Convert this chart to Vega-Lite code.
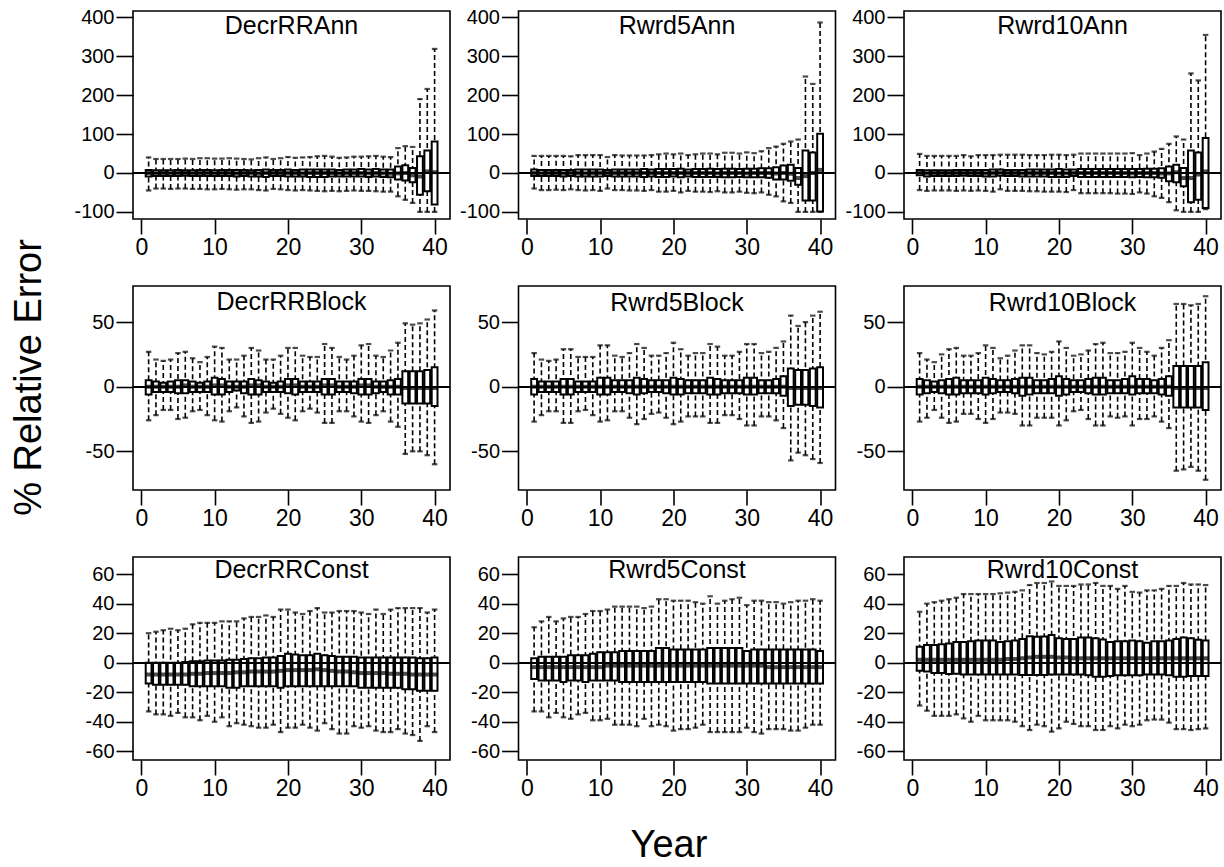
{
"$schema": "https://vega.github.io/schema/vega-lite/v6.json",
"padding": {"left": 9, "top": 6, "right": 5, "bottom": 3},
"background": "white",
"config": {
 "font": "Liberation Sans",
 "view": {"stroke": "black", "strokeWidth": 1.6},
 "axis": {"grid": false, "domain": false, "tickColor": "black", "tickWidth": 1.6, "labelColor": "black", "labelFont": "Liberation Sans", "labelExpr": "'' + datum.value", "labelOverlap": false, "tickCount": 20, "titleFont": "Liberation Sans", "titleFontWeight": "normal", "titleColor": "black"},
 "axisX": {"tickSize": 15, "labelFontSize": 23, "labelPadding": 2},
 "axisY": {"tickSize": 17, "labelFontSize": 20, "labelPadding": 2},
 "scale": {"continuousPadding": 0},
 "title": {"font": "Liberation Sans", "fontSize": 25, "fontWeight": "normal", "color": "black", "baseline": "middle"}
},
"datasets": {
"DecrRRAnn": [
{"yr":1,"lo":-45,"q1":-9,"md":0,"q3":8,"hi":40},{"yr":2,"lo":-40,"q1":-8,"md":-1,"q3":7,"hi":36},{"yr":3,"lo":-40,"q1":-8,"md":0,"q3":7,"hi":36},{"yr":4,"lo":-41,"q1":-8,"md":-1,"q3":7,"hi":36},{"yr":5,"lo":-40,"q1":-8,"md":0,"q3":8,"hi":36},{"yr":6,"lo":-40,"q1":-7,"md":0,"q3":7,"hi":37},{"yr":7,"lo":-41,"q1":-8,"md":-1,"q3":7,"hi":36},{"yr":8,"lo":-41,"q1":-8,"md":0,"q3":8,"hi":38},{"yr":9,"lo":-42,"q1":-8,"md":0,"q3":8,"hi":38},{"yr":10,"lo":-42,"q1":-8,"md":-1,"q3":7,"hi":37},
{"yr":11,"lo":-41,"q1":-8,"md":0,"q3":8,"hi":37},{"yr":12,"lo":-42,"q1":-8,"md":0,"q3":8,"hi":38},{"yr":13,"lo":-43,"q1":-9,"md":-1,"q3":8,"hi":37},{"yr":14,"lo":-42,"q1":-8,"md":0,"q3":8,"hi":36},{"yr":15,"lo":-42,"q1":-9,"md":0,"q3":7,"hi":35},{"yr":16,"lo":-44,"q1":-9,"md":-1,"q3":8,"hi":38},{"yr":17,"lo":-45,"q1":-10,"md":0,"q3":9,"hi":40},{"yr":18,"lo":-41,"q1":-8,"md":0,"q3":8,"hi":36},{"yr":19,"lo":-42,"q1":-8,"md":0,"q3":8,"hi":38},{"yr":20,"lo":-44,"q1":-9,"md":0,"q3":9,"hi":41},
{"yr":21,"lo":-45,"q1":-9,"md":0,"q3":8,"hi":39},{"yr":22,"lo":-44,"q1":-9,"md":-1,"q3":9,"hi":40},{"yr":23,"lo":-45,"q1":-10,"md":0,"q3":9,"hi":41},{"yr":24,"lo":-46,"q1":-10,"md":0,"q3":9,"hi":43},{"yr":25,"lo":-47,"q1":-10,"md":0,"q3":9,"hi":44},{"yr":26,"lo":-46,"q1":-9,"md":0,"q3":9,"hi":42},{"yr":27,"lo":-47,"q1":-9,"md":-1,"q3":8,"hi":39},{"yr":28,"lo":-46,"q1":-9,"md":0,"q3":9,"hi":40},{"yr":29,"lo":-45,"q1":-9,"md":0,"q3":9,"hi":42},{"yr":30,"lo":-46,"q1":-9,"md":0,"q3":10,"hi":42},
{"yr":31,"lo":-46,"q1":-10,"md":-1,"q3":9,"hi":43},{"yr":32,"lo":-47,"q1":-9,"md":0,"q3":10,"hi":44},{"yr":33,"lo":-48,"q1":-10,"md":-1,"q3":9,"hi":42},{"yr":34,"lo":-48,"q1":-11,"md":-2,"q3":9,"hi":41},{"yr":35,"lo":-60,"q1":-17,"md":-1,"q3":17,"hi":64},{"yr":36,"lo":-69,"q1":-19,"md":0,"q3":20,"hi":69},{"yr":37,"lo":-77,"q1":-24,"md":-6,"q3":13,"hi":67},{"yr":38,"lo":-100,"q1":-56,"md":-9,"q3":43,"hi":190},{"yr":39,"lo":-100,"q1":-47,"md":4,"q3":58,"hi":216},{"yr":40,"lo":-100,"q1":-81,"md":2,"q3":81,"hi":319}
],
"Rwrd5Ann": [
{"yr":1,"lo":-40,"q1":-8,"md":0,"q3":9,"hi":44},{"yr":2,"lo":-44,"q1":-8,"md":-1,"q3":8,"hi":44},{"yr":3,"lo":-44,"q1":-8,"md":0,"q3":8,"hi":44},{"yr":4,"lo":-43,"q1":-8,"md":0,"q3":8,"hi":44},{"yr":5,"lo":-44,"q1":-9,"md":-1,"q3":8,"hi":44},{"yr":6,"lo":-42,"q1":-8,"md":0,"q3":8,"hi":43},{"yr":7,"lo":-44,"q1":-9,"md":0,"q3":9,"hi":46},{"yr":8,"lo":-45,"q1":-9,"md":-1,"q3":9,"hi":46},{"yr":9,"lo":-44,"q1":-9,"md":0,"q3":9,"hi":46},{"yr":10,"lo":-46,"q1":-9,"md":0,"q3":9,"hi":46},
{"yr":11,"lo":-40,"q1":-8,"md":0,"q3":8,"hi":41},{"yr":12,"lo":-44,"q1":-9,"md":0,"q3":9,"hi":46},{"yr":13,"lo":-44,"q1":-9,"md":0,"q3":9,"hi":45},{"yr":14,"lo":-45,"q1":-9,"md":0,"q3":9,"hi":45},{"yr":15,"lo":-45,"q1":-9,"md":0,"q3":9,"hi":45},{"yr":16,"lo":-46,"q1":-10,"md":0,"q3":10,"hi":45},{"yr":17,"lo":-44,"q1":-9,"md":0,"q3":9,"hi":46},{"yr":18,"lo":-48,"q1":-10,"md":0,"q3":10,"hi":48},{"yr":19,"lo":-48,"q1":-10,"md":0,"q3":10,"hi":50},{"yr":20,"lo":-46,"q1":-9,"md":0,"q3":10,"hi":48},
{"yr":21,"lo":-50,"q1":-11,"md":0,"q3":11,"hi":50},{"yr":22,"lo":-46,"q1":-9,"md":0,"q3":9,"hi":46},{"yr":23,"lo":-48,"q1":-10,"md":0,"q3":10,"hi":48},{"yr":24,"lo":-48,"q1":-10,"md":0,"q3":10,"hi":50},{"yr":25,"lo":-49,"q1":-10,"md":0,"q3":11,"hi":50},{"yr":26,"lo":-47,"q1":-10,"md":-1,"q3":10,"hi":48},{"yr":27,"lo":-50,"q1":-11,"md":0,"q3":11,"hi":52},{"yr":28,"lo":-50,"q1":-11,"md":0,"q3":11,"hi":52},{"yr":29,"lo":-48,"q1":-10,"md":0,"q3":10,"hi":50},{"yr":30,"lo":-51,"q1":-11,"md":-1,"q3":11,"hi":53},
{"yr":31,"lo":-52,"q1":-11,"md":0,"q3":11,"hi":51},{"yr":32,"lo":-50,"q1":-11,"md":0,"q3":12,"hi":56},{"yr":33,"lo":-56,"q1":-12,"md":0,"q3":12,"hi":64},{"yr":34,"lo":-60,"q1":-17,"md":-1,"q3":15,"hi":68},{"yr":35,"lo":-73,"q1":-17,"md":0,"q3":19,"hi":75},{"yr":36,"lo":-77,"q1":-20,"md":-2,"q3":21,"hi":81},{"yr":37,"lo":-100,"q1":-30,"md":-13,"q3":13,"hi":86},{"yr":38,"lo":-100,"q1":-71,"md":-8,"q3":58,"hi":248},{"yr":39,"lo":-100,"q1":-71,"md":0,"q3":53,"hi":229},{"yr":40,"lo":-100,"q1":-99,"md":8,"q3":101,"hi":387}
],
"Rwrd10Ann": [
{"yr":1,"lo":-44,"q1":-6,"md":2,"q3":8,"hi":49},{"yr":2,"lo":-46,"q1":-9,"md":-1,"q3":7,"hi":44},{"yr":3,"lo":-45,"q1":-8,"md":0,"q3":7,"hi":44},{"yr":4,"lo":-45,"q1":-8,"md":0,"q3":7,"hi":44},{"yr":5,"lo":-45,"q1":-8,"md":0,"q3":7,"hi":44},{"yr":6,"lo":-46,"q1":-8,"md":0,"q3":8,"hi":44},{"yr":7,"lo":-45,"q1":-7,"md":0,"q3":8,"hi":46},{"yr":8,"lo":-46,"q1":-8,"md":0,"q3":8,"hi":43},{"yr":9,"lo":-45,"q1":-8,"md":0,"q3":8,"hi":46},{"yr":10,"lo":-46,"q1":-9,"md":-1,"q3":8,"hi":46},
{"yr":11,"lo":-48,"q1":-9,"md":0,"q3":9,"hi":46},{"yr":12,"lo":-42,"q1":-7,"md":1,"q3":9,"hi":47},{"yr":13,"lo":-46,"q1":-8,"md":0,"q3":8,"hi":47},{"yr":14,"lo":-46,"q1":-8,"md":0,"q3":8,"hi":47},{"yr":15,"lo":-46,"q1":-9,"md":-1,"q3":8,"hi":47},{"yr":16,"lo":-47,"q1":-9,"md":0,"q3":9,"hi":46},{"yr":17,"lo":-47,"q1":-9,"md":0,"q3":9,"hi":46},{"yr":18,"lo":-48,"q1":-9,"md":0,"q3":9,"hi":46},{"yr":19,"lo":-48,"q1":-10,"md":0,"q3":9,"hi":47},{"yr":20,"lo":-48,"q1":-10,"md":-1,"q3":10,"hi":47},
{"yr":21,"lo":-49,"q1":-10,"md":-1,"q3":9,"hi":46},{"yr":22,"lo":-44,"q1":-8,"md":0,"q3":9,"hi":47},{"yr":23,"lo":-52,"q1":-10,"md":0,"q3":10,"hi":50},{"yr":24,"lo":-52,"q1":-10,"md":0,"q3":10,"hi":50},{"yr":25,"lo":-52,"q1":-10,"md":0,"q3":10,"hi":50},{"yr":26,"lo":-52,"q1":-10,"md":0,"q3":10,"hi":50},{"yr":27,"lo":-52,"q1":-10,"md":0,"q3":10,"hi":50},{"yr":28,"lo":-53,"q1":-10,"md":0,"q3":10,"hi":50},{"yr":29,"lo":-53,"q1":-10,"md":0,"q3":10,"hi":50},{"yr":30,"lo":-54,"q1":-11,"md":-1,"q3":10,"hi":51},
{"yr":31,"lo":-50,"q1":-10,"md":0,"q3":10,"hi":46},{"yr":32,"lo":-53,"q1":-11,"md":0,"q3":11,"hi":50},{"yr":33,"lo":-60,"q1":-11,"md":0,"q3":11,"hi":55},{"yr":34,"lo":-64,"q1":-12,"md":-1,"q3":12,"hi":62},{"yr":35,"lo":-75,"q1":-21,"md":-1,"q3":17,"hi":75},{"yr":36,"lo":-96,"q1":-24,"md":2,"q3":21,"hi":94},{"yr":37,"lo":-100,"q1":-34,"md":-13,"q3":13,"hi":86},{"yr":38,"lo":-100,"q1":-75,"md":-13,"q3":58,"hi":256},{"yr":39,"lo":-100,"q1":-69,"md":-4,"q3":53,"hi":238},{"yr":40,"lo":-93,"q1":-90,"md":4,"q3":90,"hi":355}
],
"DecrRRBlock": [
{"yr":1,"lo":-26,"q1":-6,"md":0,"q3":5,"hi":27},{"yr":2,"lo":-22,"q1":-4,"md":0,"q3":4,"hi":21},{"yr":3,"lo":-18,"q1":-4,"md":0,"q3":3,"hi":20},{"yr":4,"lo":-18,"q1":-4,"md":0,"q3":4,"hi":21},{"yr":5,"lo":-25,"q1":-5,"md":0,"q3":5,"hi":26},{"yr":6,"lo":-24,"q1":-5,"md":1,"q3":5,"hi":27},{"yr":7,"lo":-19,"q1":-4,"md":0,"q3":4,"hi":22},{"yr":8,"lo":-18,"q1":-4,"md":0,"q3":3,"hi":19},{"yr":9,"lo":-22,"q1":-4,"md":0,"q3":4,"hi":23},{"yr":10,"lo":-26,"q1":-6,"md":1,"q3":7,"hi":31},
{"yr":11,"lo":-27,"q1":-6,"md":1,"q3":6,"hi":30},{"yr":12,"lo":-19,"q1":-4,"md":0,"q3":4,"hi":21},{"yr":13,"lo":-16,"q1":-3,"md":0,"q3":4,"hi":21},{"yr":14,"lo":-23,"q1":-5,"md":0,"q3":4,"hi":24},{"yr":15,"lo":-28,"q1":-6,"md":1,"q3":6,"hi":30},{"yr":16,"lo":-27,"q1":-6,"md":1,"q3":5,"hi":28},{"yr":17,"lo":-20,"q1":-4,"md":0,"q3":4,"hi":21},{"yr":18,"lo":-17,"q1":-4,"md":0,"q3":3,"hi":21},{"yr":19,"lo":-21,"q1":-4,"md":0,"q3":4,"hi":24},{"yr":20,"lo":-24,"q1":-5,"md":1,"q3":6,"hi":30},
{"yr":21,"lo":-26,"q1":-6,"md":1,"q3":6,"hi":30},{"yr":22,"lo":-19,"q1":-4,"md":0,"q3":4,"hi":24},{"yr":23,"lo":-17,"q1":-4,"md":0,"q3":4,"hi":23},{"yr":24,"lo":-20,"q1":-4,"md":0,"q3":4,"hi":23},{"yr":25,"lo":-28,"q1":-6,"md":1,"q3":6,"hi":33},{"yr":26,"lo":-28,"q1":-6,"md":1,"q3":6,"hi":30},{"yr":27,"lo":-19,"q1":-4,"md":0,"q3":4,"hi":23},{"yr":28,"lo":-19,"q1":-4,"md":0,"q3":4,"hi":21},{"yr":29,"lo":-23,"q1":-5,"md":0,"q3":4,"hi":24},{"yr":30,"lo":-27,"q1":-6,"md":1,"q3":6,"hi":32},
{"yr":31,"lo":-28,"q1":-6,"md":1,"q3":6,"hi":33},{"yr":32,"lo":-22,"q1":-5,"md":0,"q3":4,"hi":24},{"yr":33,"lo":-19,"q1":-4,"md":0,"q3":4,"hi":23},{"yr":34,"lo":-27,"q1":-6,"md":0,"q3":5,"hi":28},{"yr":35,"lo":-31,"q1":-6,"md":0,"q3":6,"hi":34},{"yr":36,"lo":-52,"q1":-13,"md":-1,"q3":12,"hi":49},{"yr":37,"lo":-50,"q1":-13,"md":-1,"q3":12,"hi":48},{"yr":38,"lo":-50,"q1":-13,"md":-1,"q3":12,"hi":49},{"yr":39,"lo":-53,"q1":-13,"md":-1,"q3":13,"hi":52},{"yr":40,"lo":-60,"q1":-15,"md":-1,"q3":15,"hi":59}
],
"Rwrd5Block": [
{"yr":1,"lo":-27,"q1":-6,"md":0,"q3":6,"hi":26},{"yr":2,"lo":-22,"q1":-4,"md":0,"q3":4,"hi":21},{"yr":3,"lo":-19,"q1":-4,"md":0,"q3":4,"hi":20},{"yr":4,"lo":-19,"q1":-4,"md":0,"q3":4,"hi":21},{"yr":5,"lo":-28,"q1":-6,"md":0,"q3":6,"hi":29},{"yr":6,"lo":-28,"q1":-6,"md":0,"q3":6,"hi":29},{"yr":7,"lo":-19,"q1":-4,"md":0,"q3":4,"hi":23},{"yr":8,"lo":-18,"q1":-4,"md":0,"q3":4,"hi":23},{"yr":9,"lo":-22,"q1":-4,"md":0,"q3":4,"hi":23},{"yr":10,"lo":-27,"q1":-6,"md":0,"q3":7,"hi":32},
{"yr":11,"lo":-26,"q1":-6,"md":0,"q3":7,"hi":32},{"yr":12,"lo":-19,"q1":-4,"md":0,"q3":5,"hi":24},{"yr":13,"lo":-19,"q1":-4,"md":0,"q3":5,"hi":23},{"yr":14,"lo":-24,"q1":-5,"md":0,"q3":5,"hi":26},{"yr":15,"lo":-29,"q1":-6,"md":0,"q3":7,"hi":33},{"yr":16,"lo":-25,"q1":-5,"md":0,"q3":6,"hi":30},{"yr":17,"lo":-21,"q1":-4,"md":0,"q3":5,"hi":24},{"yr":18,"lo":-20,"q1":-4,"md":0,"q3":5,"hi":24},{"yr":19,"lo":-24,"q1":-5,"md":0,"q3":5,"hi":26},{"yr":20,"lo":-29,"q1":-6,"md":0,"q3":7,"hi":34},
{"yr":21,"lo":-27,"q1":-6,"md":0,"q3":6,"hi":29},{"yr":22,"lo":-23,"q1":-5,"md":0,"q3":5,"hi":24},{"yr":23,"lo":-23,"q1":-5,"md":0,"q3":5,"hi":26},{"yr":24,"lo":-23,"q1":-5,"md":0,"q3":5,"hi":26},{"yr":25,"lo":-28,"q1":-6,"md":0,"q3":7,"hi":33},{"yr":26,"lo":-28,"q1":-6,"md":0,"q3":6,"hi":31},{"yr":27,"lo":-22,"q1":-5,"md":0,"q3":5,"hi":24},{"yr":28,"lo":-22,"q1":-5,"md":0,"q3":5,"hi":24},{"yr":29,"lo":-25,"q1":-5,"md":0,"q3":5,"hi":27},{"yr":30,"lo":-30,"q1":-6,"md":0,"q3":7,"hi":33},
{"yr":31,"lo":-30,"q1":-6,"md":0,"q3":7,"hi":33},{"yr":32,"lo":-23,"q1":-5,"md":0,"q3":5,"hi":26},{"yr":33,"lo":-23,"q1":-5,"md":0,"q3":5,"hi":27},{"yr":34,"lo":-26,"q1":-5,"md":0,"q3":6,"hi":30},{"yr":35,"lo":-32,"q1":-7,"md":0,"q3":8,"hi":35},{"yr":36,"lo":-57,"q1":-15,"md":-1,"q3":14,"hi":55},{"yr":37,"lo":-51,"q1":-14,"md":-1,"q3":13,"hi":47},{"yr":38,"lo":-53,"q1":-14,"md":-1,"q3":13,"hi":50},{"yr":39,"lo":-56,"q1":-15,"md":-1,"q3":14,"hi":55},{"yr":40,"lo":-59,"q1":-16,"md":-1,"q3":15,"hi":58}
],
"Rwrd10Block": [
{"yr":1,"lo":-27,"q1":-6,"md":0,"q3":6,"hi":26},{"yr":2,"lo":-24,"q1":-5,"md":0,"q3":5,"hi":21},{"yr":3,"lo":-18,"q1":-4,"md":0,"q3":4,"hi":19},{"yr":4,"lo":-24,"q1":-5,"md":0,"q3":5,"hi":25},{"yr":5,"lo":-28,"q1":-6,"md":0,"q3":6,"hi":29},{"yr":6,"lo":-27,"q1":-6,"md":0,"q3":7,"hi":30},{"yr":7,"lo":-21,"q1":-5,"md":0,"q3":5,"hi":24},{"yr":8,"lo":-21,"q1":-5,"md":0,"q3":5,"hi":24},{"yr":9,"lo":-25,"q1":-5,"md":0,"q3":5,"hi":26},{"yr":10,"lo":-28,"q1":-6,"md":0,"q3":7,"hi":32},
{"yr":11,"lo":-25,"q1":-5,"md":0,"q3":6,"hi":30},{"yr":12,"lo":-20,"q1":-4,"md":0,"q3":5,"hi":22},{"yr":13,"lo":-20,"q1":-4,"md":0,"q3":5,"hi":24},{"yr":14,"lo":-21,"q1":-5,"md":0,"q3":6,"hi":28},{"yr":15,"lo":-30,"q1":-7,"md":0,"q3":7,"hi":32},{"yr":16,"lo":-30,"q1":-6,"md":0,"q3":7,"hi":32},{"yr":17,"lo":-24,"q1":-5,"md":0,"q3":5,"hi":26},{"yr":18,"lo":-24,"q1":-5,"md":0,"q3":5,"hi":25},{"yr":19,"lo":-24,"q1":-5,"md":0,"q3":6,"hi":27},{"yr":20,"lo":-30,"q1":-7,"md":0,"q3":8,"hi":35},
{"yr":21,"lo":-26,"q1":-6,"md":0,"q3":6,"hi":30},{"yr":22,"lo":-19,"q1":-4,"md":0,"q3":5,"hi":24},{"yr":23,"lo":-18,"q1":-4,"md":0,"q3":5,"hi":25},{"yr":24,"lo":-25,"q1":-5,"md":0,"q3":6,"hi":28},{"yr":25,"lo":-30,"q1":-6,"md":0,"q3":7,"hi":33},{"yr":26,"lo":-30,"q1":-6,"md":0,"q3":7,"hi":34},{"yr":27,"lo":-23,"q1":-5,"md":0,"q3":5,"hi":26},{"yr":28,"lo":-24,"q1":-5,"md":0,"q3":5,"hi":26},{"yr":29,"lo":-23,"q1":-5,"md":0,"q3":6,"hi":27},{"yr":30,"lo":-30,"q1":-6,"md":0,"q3":8,"hi":34},
{"yr":31,"lo":-25,"q1":-5,"md":0,"q3":6,"hi":30},{"yr":32,"lo":-25,"q1":-5,"md":0,"q3":6,"hi":27},{"yr":33,"lo":-23,"q1":-5,"md":0,"q3":5,"hi":24},{"yr":34,"lo":-27,"q1":-6,"md":0,"q3":6,"hi":30},{"yr":35,"lo":-32,"q1":-7,"md":0,"q3":8,"hi":36},{"yr":36,"lo":-65,"q1":-16,"md":-1,"q3":16,"hi":64},{"yr":37,"lo":-64,"q1":-16,"md":-1,"q3":16,"hi":64},{"yr":38,"lo":-62,"q1":-16,"md":-1,"q3":16,"hi":63},{"yr":39,"lo":-65,"q1":-16,"md":-1,"q3":16,"hi":64},{"yr":40,"lo":-72,"q1":-18,"md":-1,"q3":19,"hi":70}
],
"DecrRRConst": [
{"yr":1,"lo":-33,"q1":-14,"md":-8,"q3":0,"hi":20},{"yr":2,"lo":-35,"q1":-15,"md":-8,"q3":0,"hi":21},{"yr":3,"lo":-35,"q1":-15,"md":-8,"q3":0,"hi":22},{"yr":4,"lo":-36,"q1":-15,"md":-8,"q3":0,"hi":23},{"yr":5,"lo":-34,"q1":-15,"md":-8,"q3":0,"hi":22},{"yr":6,"lo":-37,"q1":-15,"md":-8,"q3":0.5,"hi":23},{"yr":7,"lo":-37,"q1":-16,"md":-7.5,"q3":1,"hi":26},{"yr":8,"lo":-39,"q1":-16,"md":-7.5,"q3":1,"hi":27},{"yr":9,"lo":-36,"q1":-16,"md":-7,"q3":1.5,"hi":27},{"yr":10,"lo":-40,"q1":-16,"md":-7,"q3":1.5,"hi":27},
{"yr":11,"lo":-37,"q1":-16,"md":-7,"q3":1.5,"hi":28},{"yr":12,"lo":-43,"q1":-17,"md":-7,"q3":2,"hi":28},{"yr":13,"lo":-41,"q1":-17,"md":-6.5,"q3":2,"hi":28},{"yr":14,"lo":-42,"q1":-16,"md":-6.5,"q3":2.5,"hi":30},{"yr":15,"lo":-43,"q1":-16,"md":-6,"q3":3,"hi":31},{"yr":16,"lo":-44,"q1":-16,"md":-6,"q3":3,"hi":31},{"yr":17,"lo":-44,"q1":-16,"md":-6,"q3":3.5,"hi":32},{"yr":18,"lo":-42,"q1":-16,"md":-6,"q3":3.5,"hi":31},{"yr":19,"lo":-47,"q1":-17,"md":-5.5,"q3":4.5,"hi":36},{"yr":20,"lo":-44,"q1":-16,"md":-5,"q3":6,"hi":36},
{"yr":21,"lo":-44,"q1":-16,"md":-5,"q3":5.5,"hi":34},{"yr":22,"lo":-42,"q1":-16,"md":-5,"q3":5,"hi":33},{"yr":23,"lo":-44,"q1":-16,"md":-5,"q3":5,"hi":35},{"yr":24,"lo":-46,"q1":-16,"md":-4.5,"q3":6,"hi":37},{"yr":25,"lo":-41,"q1":-16,"md":-5,"q3":5,"hi":34},{"yr":26,"lo":-45,"q1":-16,"md":-5.5,"q3":4.5,"hi":34},{"yr":27,"lo":-48,"q1":-16,"md":-6,"q3":4,"hi":35},{"yr":28,"lo":-48,"q1":-16,"md":-6,"q3":4,"hi":35},{"yr":29,"lo":-43,"q1":-16,"md":-6.5,"q3":4,"hi":35},{"yr":30,"lo":-44,"q1":-17,"md":-7,"q3":3.5,"hi":34},
{"yr":31,"lo":-43,"q1":-17,"md":-7,"q3":3.5,"hi":33},{"yr":32,"lo":-46,"q1":-17,"md":-7,"q3":3.5,"hi":36},{"yr":33,"lo":-47,"q1":-17,"md":-7,"q3":3.5,"hi":33},{"yr":34,"lo":-47,"q1":-17,"md":-7.5,"q3":3.5,"hi":36},{"yr":35,"lo":-45,"q1":-17,"md":-7.5,"q3":3.5,"hi":37},{"yr":36,"lo":-48,"q1":-18,"md":-7.5,"q3":3.5,"hi":37},{"yr":37,"lo":-49,"q1":-18,"md":-8,"q3":3.5,"hi":37},{"yr":38,"lo":-53,"q1":-19,"md":-8,"q3":3,"hi":37},{"yr":39,"lo":-43,"q1":-19,"md":-8,"q3":3,"hi":34},{"yr":40,"lo":-47,"q1":-19,"md":-8,"q3":3.5,"hi":36}
],
"Rwrd5Const": [
{"yr":1,"lo":-33,"q1":-11,"md":-3,"q3":3,"hi":24},{"yr":2,"lo":-33,"q1":-12,"md":-3,"q3":4,"hi":28},{"yr":3,"lo":-37,"q1":-12,"md":-3,"q3":4,"hi":31},{"yr":4,"lo":-34,"q1":-12,"md":-3,"q3":4,"hi":28},{"yr":5,"lo":-37,"q1":-13,"md":-3,"q3":4,"hi":30},{"yr":6,"lo":-38,"q1":-12,"md":-3,"q3":5,"hi":31},{"yr":7,"lo":-35,"q1":-12,"md":-3,"q3":5,"hi":31},{"yr":8,"lo":-34,"q1":-13,"md":-3,"q3":5,"hi":33},{"yr":9,"lo":-39,"q1":-12,"md":-3,"q3":6,"hi":35},{"yr":10,"lo":-39,"q1":-12,"md":-3,"q3":7,"hi":35},
{"yr":11,"lo":-38,"q1":-12,"md":-2,"q3":7,"hi":36},{"yr":12,"lo":-42,"q1":-12,"md":-2,"q3":7,"hi":38},{"yr":13,"lo":-42,"q1":-13,"md":-2,"q3":8,"hi":38},{"yr":14,"lo":-42,"q1":-13,"md":-2,"q3":8,"hi":38},{"yr":15,"lo":-43,"q1":-13,"md":-2,"q3":8,"hi":38},{"yr":16,"lo":-38,"q1":-13,"md":-2,"q3":8,"hi":37},{"yr":17,"lo":-43,"q1":-13,"md":-2,"q3":8,"hi":38},{"yr":18,"lo":-42,"q1":-13,"md":-2,"q3":10,"hi":43},{"yr":19,"lo":-43,"q1":-13,"md":-2,"q3":10,"hi":43},{"yr":20,"lo":-46,"q1":-13,"md":-2,"q3":9,"hi":42},
{"yr":21,"lo":-45,"q1":-13,"md":-2,"q3":9,"hi":42},{"yr":22,"lo":-45,"q1":-13,"md":-2,"q3":9,"hi":42},{"yr":23,"lo":-44,"q1":-13,"md":-2,"q3":9,"hi":41},{"yr":24,"lo":-42,"q1":-13,"md":-2,"q3":9,"hi":40},{"yr":25,"lo":-47,"q1":-14,"md":-2,"q3":10,"hi":45},{"yr":26,"lo":-47,"q1":-14,"md":-2,"q3":10,"hi":40},{"yr":27,"lo":-47,"q1":-14,"md":-2,"q3":10,"hi":42},{"yr":28,"lo":-47,"q1":-14,"md":-2,"q3":10,"hi":43},{"yr":29,"lo":-47,"q1":-14,"md":-2,"q3":10,"hi":44},{"yr":30,"lo":-44,"q1":-14,"md":-2,"q3":8,"hi":39},
{"yr":31,"lo":-47,"q1":-14,"md":-2,"q3":9,"hi":42},{"yr":32,"lo":-48,"q1":-14,"md":-2,"q3":9,"hi":42},{"yr":33,"lo":-45,"q1":-14,"md":-3,"q3":9,"hi":41},{"yr":34,"lo":-45,"q1":-14,"md":-3,"q3":9,"hi":41},{"yr":35,"lo":-45,"q1":-14,"md":-3,"q3":9,"hi":40},{"yr":36,"lo":-46,"q1":-14,"md":-3,"q3":9,"hi":41},{"yr":37,"lo":-46,"q1":-14,"md":-3,"q3":9,"hi":42},{"yr":38,"lo":-44,"q1":-14,"md":-3,"q3":9,"hi":42},{"yr":39,"lo":-42,"q1":-14,"md":-3,"q3":9,"hi":43},{"yr":40,"lo":-42,"q1":-14,"md":-3,"q3":8,"hi":42}
],
"Rwrd10Const": [
{"yr":1,"lo":-29,"q1":-5.4,"md":2,"q3":10.8,"hi":34.5},{"yr":2,"lo":-32.5,"q1":-6,"md":2,"q3":12,"hi":40},{"yr":3,"lo":-36,"q1":-7,"md":2,"q3":12,"hi":41},{"yr":4,"lo":-36,"q1":-7,"md":2,"q3":12.5,"hi":42},{"yr":5,"lo":-36,"q1":-7.7,"md":2,"q3":13,"hi":43},{"yr":6,"lo":-35,"q1":-7.5,"md":2,"q3":14,"hi":44},{"yr":7,"lo":-37.7,"q1":-8,"md":2,"q3":14,"hi":46.5},{"yr":8,"lo":-40,"q1":-8,"md":2,"q3":14.5,"hi":46.5},{"yr":9,"lo":-36,"q1":-8,"md":2,"q3":15,"hi":46.5},{"yr":10,"lo":-39,"q1":-8,"md":2,"q3":15,"hi":46.5},
{"yr":11,"lo":-39,"q1":-8,"md":2,"q3":15,"hi":46.5},{"yr":12,"lo":-39,"q1":-8,"md":2,"q3":14,"hi":47},{"yr":13,"lo":-39,"q1":-8,"md":2.5,"q3":14.5,"hi":47.5},{"yr":14,"lo":-40,"q1":-8,"md":2.5,"q3":15,"hi":48},{"yr":15,"lo":-43,"q1":-8.4,"md":3,"q3":16,"hi":49},{"yr":16,"lo":-45.6,"q1":-8.4,"md":3.5,"q3":18,"hi":52.6},{"yr":17,"lo":-42,"q1":-8.4,"md":4,"q3":17.6,"hi":54},{"yr":18,"lo":-43,"q1":-8.4,"md":4,"q3":17.8,"hi":54},{"yr":19,"lo":-46.7,"q1":-8,"md":4,"q3":18.7,"hi":55},{"yr":20,"lo":-44.5,"q1":-8,"md":3.5,"q3":16.5,"hi":52},
{"yr":21,"lo":-40,"q1":-8,"md":3.5,"q3":16,"hi":52},{"yr":22,"lo":-41.5,"q1":-8,"md":3,"q3":16,"hi":52},{"yr":23,"lo":-43,"q1":-8,"md":3,"q3":17,"hi":53},{"yr":24,"lo":-43,"q1":-8.5,"md":3,"q3":17,"hi":53},{"yr":25,"lo":-45.6,"q1":-9.5,"md":3,"q3":16.5,"hi":54},{"yr":26,"lo":-45.6,"q1":-9.5,"md":3,"q3":15.8,"hi":52},{"yr":27,"lo":-43,"q1":-9,"md":3,"q3":14,"hi":52},{"yr":28,"lo":-44.5,"q1":-8.5,"md":3,"q3":14.5,"hi":50},{"yr":29,"lo":-42,"q1":-8.5,"md":3,"q3":14.5,"hi":52},{"yr":30,"lo":-43,"q1":-8.5,"md":3,"q3":15,"hi":48},
{"yr":31,"lo":-42,"q1":-8.5,"md":3,"q3":14.5,"hi":47.5},{"yr":32,"lo":-39,"q1":-8,"md":3,"q3":13.5,"hi":49},{"yr":33,"lo":-38.5,"q1":-8,"md":3,"q3":14.5,"hi":49},{"yr":34,"lo":-38.5,"q1":-8,"md":3,"q3":14.5,"hi":50},{"yr":35,"lo":-40.6,"q1":-8.5,"md":3,"q3":15,"hi":52},{"yr":36,"lo":-45,"q1":-9.5,"md":3,"q3":16,"hi":52},{"yr":37,"lo":-45,"q1":-9.5,"md":3,"q3":17,"hi":54},{"yr":38,"lo":-45.6,"q1":-9,"md":3,"q3":16.5,"hi":53},{"yr":39,"lo":-45,"q1":-9,"md":3,"q3":15.5,"hi":53},{"yr":40,"lo":-44.5,"q1":-9,"md":3,"q3":15,"hi":52.6}
]
},
"concat": [
{"width":317,"height":208,"title":{"text":"DecrRRAnn","offset":-32},"data":{"name":"DecrRRAnn"},"layer":[
 {"mark":{"type":"rule","strokeDash":[5,3],"strokeWidth":1.6,"color":"black"},"encoding":{"x":{"field":"yr","type":"quantitative","title":null,"scale":{"domain":[-1.13,42.1],"nice":false,"zero":false,"padding":0},"axis":{"values":[0,10,20,30,40],"tickCount":20}},"y":{"field":"lo","type":"quantitative","title":null,"scale":{"domain":[-118.3,416.5],"nice":false,"zero":false,"padding":0},"axis":{"values":[-100,0,100,200,300,400],"tickCount":20}},"y2":{"field":"hi"}}},
 {"mark":{"type":"tick","orient":"horizontal","size":5.5,"thickness":2.2,"color":"black"},"encoding":{"x":{"field":"yr","type":"quantitative","title":null},"y":{"field":"hi","type":"quantitative","title":null}}},
 {"mark":{"type":"tick","orient":"horizontal","size":5.5,"thickness":2.2,"color":"black"},"encoding":{"x":{"field":"yr","type":"quantitative","title":null},"y":{"field":"lo","type":"quantitative","title":null}}},
 {"mark":{"type":"bar","size":5.8,"fill":"white","stroke":"black","strokeWidth":2},"encoding":{"x":{"field":"yr","type":"quantitative","title":null},"y":{"field":"q1","type":"quantitative","title":null},"y2":{"field":"q3"}}},
 {"mark":{"type":"rule","color":"black","strokeWidth":1.6},"encoding":{"y":{"datum":0}}},
 {"mark":{"type":"tick","orient":"horizontal","size":7,"thickness":4,"color":"black"},"encoding":{"x":{"field":"yr","type":"quantitative","title":null},"y":{"field":"md","type":"quantitative","title":null}}}
]},
{"width":317,"height":208,"title":{"text":"Rwrd5Ann","offset":-32},"data":{"name":"Rwrd5Ann"},"layer":[
 {"mark":{"type":"rule","strokeDash":[5,3],"strokeWidth":1.6,"color":"black"},"encoding":{"x":{"field":"yr","type":"quantitative","title":null,"scale":{"domain":[-1.13,42.1],"nice":false,"zero":false,"padding":0},"axis":{"values":[0,10,20,30,40],"tickCount":20}},"y":{"field":"lo","type":"quantitative","title":null,"scale":{"domain":[-118.3,416.5],"nice":false,"zero":false,"padding":0},"axis":{"values":[-100,0,100,200,300,400],"tickCount":20}},"y2":{"field":"hi"}}},
 {"mark":{"type":"tick","orient":"horizontal","size":5.5,"thickness":2.2,"color":"black"},"encoding":{"x":{"field":"yr","type":"quantitative","title":null},"y":{"field":"hi","type":"quantitative","title":null}}},
 {"mark":{"type":"tick","orient":"horizontal","size":5.5,"thickness":2.2,"color":"black"},"encoding":{"x":{"field":"yr","type":"quantitative","title":null},"y":{"field":"lo","type":"quantitative","title":null}}},
 {"mark":{"type":"bar","size":5.8,"fill":"white","stroke":"black","strokeWidth":2},"encoding":{"x":{"field":"yr","type":"quantitative","title":null},"y":{"field":"q1","type":"quantitative","title":null},"y2":{"field":"q3"}}},
 {"mark":{"type":"rule","color":"black","strokeWidth":1.6},"encoding":{"y":{"datum":0}}},
 {"mark":{"type":"tick","orient":"horizontal","size":7,"thickness":4,"color":"black"},"encoding":{"x":{"field":"yr","type":"quantitative","title":null},"y":{"field":"md","type":"quantitative","title":null}}}
]},
{"width":317,"height":208,"title":{"text":"Rwrd10Ann","offset":-32},"data":{"name":"Rwrd10Ann"},"layer":[
 {"mark":{"type":"rule","strokeDash":[5,3],"strokeWidth":1.6,"color":"black"},"encoding":{"x":{"field":"yr","type":"quantitative","title":null,"scale":{"domain":[-1.13,42.1],"nice":false,"zero":false,"padding":0},"axis":{"values":[0,10,20,30,40],"tickCount":20}},"y":{"field":"lo","type":"quantitative","title":null,"scale":{"domain":[-118.3,416.5],"nice":false,"zero":false,"padding":0},"axis":{"values":[-100,0,100,200,300,400],"tickCount":20}},"y2":{"field":"hi"}}},
 {"mark":{"type":"tick","orient":"horizontal","size":5.5,"thickness":2.2,"color":"black"},"encoding":{"x":{"field":"yr","type":"quantitative","title":null},"y":{"field":"hi","type":"quantitative","title":null}}},
 {"mark":{"type":"tick","orient":"horizontal","size":5.5,"thickness":2.2,"color":"black"},"encoding":{"x":{"field":"yr","type":"quantitative","title":null},"y":{"field":"lo","type":"quantitative","title":null}}},
 {"mark":{"type":"bar","size":5.8,"fill":"white","stroke":"black","strokeWidth":2},"encoding":{"x":{"field":"yr","type":"quantitative","title":null},"y":{"field":"q1","type":"quantitative","title":null},"y2":{"field":"q3"}}},
 {"mark":{"type":"rule","color":"black","strokeWidth":1.6},"encoding":{"y":{"datum":0}}},
 {"mark":{"type":"tick","orient":"horizontal","size":7,"thickness":4,"color":"black"},"encoding":{"x":{"field":"yr","type":"quantitative","title":null},"y":{"field":"md","type":"quantitative","title":null}}}
]},
{"width":317,"height":204,"title":{"text":"DecrRRBlock","offset":-76},"data":{"name":"DecrRRBlock"},"layer":[
 {"mark":{"type":"rule","strokeDash":[5,3],"strokeWidth":1.6,"color":"black"},"encoding":{"x":{"field":"yr","type":"quantitative","title":null,"scale":{"domain":[-1.13,42.1],"nice":false,"zero":false,"padding":0},"axis":{"values":[0,10,20,30,40],"tickCount":20}},"y":{"field":"lo","type":"quantitative","scale":{"domain":[-79.9,77.9],"nice":false,"zero":false,"padding":0},"axis":{"values":[-50,0,50],"tickCount":20,"title":"% Relative Error","titleFontSize":38,"titleX":-104,"titleY":91,"titleAngle":-90,"titleAlign":"center","titleBaseline":"middle"}},"y2":{"field":"hi"}}},
 {"mark":{"type":"tick","orient":"horizontal","size":5.5,"thickness":2.2,"color":"black"},"encoding":{"x":{"field":"yr","type":"quantitative","title":null},"y":{"field":"hi","type":"quantitative"}}},
 {"mark":{"type":"tick","orient":"horizontal","size":5.5,"thickness":2.2,"color":"black"},"encoding":{"x":{"field":"yr","type":"quantitative","title":null},"y":{"field":"lo","type":"quantitative"}}},
 {"mark":{"type":"bar","size":5.8,"fill":"white","stroke":"black","strokeWidth":2},"encoding":{"x":{"field":"yr","type":"quantitative","title":null},"y":{"field":"q1","type":"quantitative"},"y2":{"field":"q3"}}},
 {"mark":{"type":"rule","color":"black","strokeWidth":1.6},"encoding":{"y":{"datum":0}}},
 {"mark":{"type":"tick","orient":"horizontal","size":7,"thickness":4,"color":"black"},"encoding":{"x":{"field":"yr","type":"quantitative","title":null},"y":{"field":"md","type":"quantitative"}}}
]},
{"width":317,"height":204,"title":{"text":"Rwrd5Block","offset":-29.5},"data":{"name":"Rwrd5Block"},"layer":[
 {"mark":{"type":"rule","strokeDash":[5,3],"strokeWidth":1.6,"color":"black"},"encoding":{"x":{"field":"yr","type":"quantitative","title":null,"scale":{"domain":[-1.13,42.1],"nice":false,"zero":false,"padding":0},"axis":{"values":[0,10,20,30,40],"tickCount":20}},"y":{"field":"lo","type":"quantitative","title":null,"scale":{"domain":[-79.9,77.9],"nice":false,"zero":false,"padding":0},"axis":{"values":[-50,0,50],"tickCount":20}},"y2":{"field":"hi"}}},
 {"mark":{"type":"tick","orient":"horizontal","size":5.5,"thickness":2.2,"color":"black"},"encoding":{"x":{"field":"yr","type":"quantitative","title":null},"y":{"field":"hi","type":"quantitative","title":null}}},
 {"mark":{"type":"tick","orient":"horizontal","size":5.5,"thickness":2.2,"color":"black"},"encoding":{"x":{"field":"yr","type":"quantitative","title":null},"y":{"field":"lo","type":"quantitative","title":null}}},
 {"mark":{"type":"bar","size":5.8,"fill":"white","stroke":"black","strokeWidth":2},"encoding":{"x":{"field":"yr","type":"quantitative","title":null},"y":{"field":"q1","type":"quantitative","title":null},"y2":{"field":"q3"}}},
 {"mark":{"type":"rule","color":"black","strokeWidth":1.6},"encoding":{"y":{"datum":0}}},
 {"mark":{"type":"tick","orient":"horizontal","size":7,"thickness":4,"color":"black"},"encoding":{"x":{"field":"yr","type":"quantitative","title":null},"y":{"field":"md","type":"quantitative","title":null}}}
]},
{"width":317,"height":204,"title":{"text":"Rwrd10Block","offset":-29.5},"data":{"name":"Rwrd10Block"},"layer":[
 {"mark":{"type":"rule","strokeDash":[5,3],"strokeWidth":1.6,"color":"black"},"encoding":{"x":{"field":"yr","type":"quantitative","title":null,"scale":{"domain":[-1.13,42.1],"nice":false,"zero":false,"padding":0},"axis":{"values":[0,10,20,30,40],"tickCount":20}},"y":{"field":"lo","type":"quantitative","title":null,"scale":{"domain":[-79.9,77.9],"nice":false,"zero":false,"padding":0},"axis":{"values":[-50,0,50],"tickCount":20}},"y2":{"field":"hi"}}},
 {"mark":{"type":"tick","orient":"horizontal","size":5.5,"thickness":2.2,"color":"black"},"encoding":{"x":{"field":"yr","type":"quantitative","title":null},"y":{"field":"hi","type":"quantitative","title":null}}},
 {"mark":{"type":"tick","orient":"horizontal","size":5.5,"thickness":2.2,"color":"black"},"encoding":{"x":{"field":"yr","type":"quantitative","title":null},"y":{"field":"lo","type":"quantitative","title":null}}},
 {"mark":{"type":"bar","size":5.8,"fill":"white","stroke":"black","strokeWidth":2},"encoding":{"x":{"field":"yr","type":"quantitative","title":null},"y":{"field":"q1","type":"quantitative","title":null},"y2":{"field":"q3"}}},
 {"mark":{"type":"rule","color":"black","strokeWidth":1.6},"encoding":{"y":{"datum":0}}},
 {"mark":{"type":"tick","orient":"horizontal","size":7,"thickness":4,"color":"black"},"encoding":{"x":{"field":"yr","type":"quantitative","title":null},"y":{"field":"md","type":"quantitative","title":null}}}
]},
{"width":317,"height":203,"title":{"text":"DecrRRConst","offset":-25.5},"data":{"name":"DecrRRConst"},"layer":[
 {"mark":{"type":"rule","strokeDash":[5,3],"strokeWidth":1.6,"color":"black"},"encoding":{"x":{"field":"yr","type":"quantitative","title":null,"scale":{"domain":[-1.13,42.1],"nice":false,"zero":false,"padding":0},"axis":{"values":[0,10,20,30,40],"tickCount":20}},"y":{"field":"lo","type":"quantitative","title":null,"scale":{"domain":[-65.9,71.6],"nice":false,"zero":false,"padding":0},"axis":{"values":[-60,-40,-20,0,20,40,60],"tickCount":20}},"y2":{"field":"hi"}}},
 {"mark":{"type":"tick","orient":"horizontal","size":5.5,"thickness":2.2,"color":"black"},"encoding":{"x":{"field":"yr","type":"quantitative","title":null},"y":{"field":"hi","type":"quantitative","title":null}}},
 {"mark":{"type":"tick","orient":"horizontal","size":5.5,"thickness":2.2,"color":"black"},"encoding":{"x":{"field":"yr","type":"quantitative","title":null},"y":{"field":"lo","type":"quantitative","title":null}}},
 {"mark":{"type":"bar","size":5.8,"fill":"white","stroke":"black","strokeWidth":2},"encoding":{"x":{"field":"yr","type":"quantitative","title":null},"y":{"field":"q1","type":"quantitative","title":null},"y2":{"field":"q3"}}},
 {"mark":{"type":"rule","color":"black","strokeWidth":1.6},"encoding":{"y":{"datum":0}}},
 {"mark":{"type":"tick","orient":"horizontal","size":7,"thickness":4,"color":"black"},"encoding":{"x":{"field":"yr","type":"quantitative","title":null},"y":{"field":"md","type":"quantitative","title":null}}}
]},
{"width":317,"height":203,"title":{"text":"Rwrd5Const","offset":-25.5},"data":{"name":"Rwrd5Const"},"layer":[
 {"mark":{"type":"rule","strokeDash":[5,3],"strokeWidth":1.6,"color":"black"},"encoding":{"x":{"field":"yr","type":"quantitative","scale":{"domain":[-1.13,42.1],"nice":false,"zero":false,"padding":0},"axis":{"values":[0,10,20,30,40],"tickCount":20,"title":"Year","titleFontSize":38,"titleX":150,"titleY":85,"titleAlign":"center","titleBaseline":"middle"}},"y":{"field":"lo","type":"quantitative","title":null,"scale":{"domain":[-65.9,71.6],"nice":false,"zero":false,"padding":0},"axis":{"values":[-60,-40,-20,0,20,40,60],"tickCount":20}},"y2":{"field":"hi"}}},
 {"mark":{"type":"tick","orient":"horizontal","size":5.5,"thickness":2.2,"color":"black"},"encoding":{"x":{"field":"yr","type":"quantitative"},"y":{"field":"hi","type":"quantitative","title":null}}},
 {"mark":{"type":"tick","orient":"horizontal","size":5.5,"thickness":2.2,"color":"black"},"encoding":{"x":{"field":"yr","type":"quantitative"},"y":{"field":"lo","type":"quantitative","title":null}}},
 {"mark":{"type":"bar","size":5.8,"fill":"white","stroke":"black","strokeWidth":2},"encoding":{"x":{"field":"yr","type":"quantitative"},"y":{"field":"q1","type":"quantitative","title":null},"y2":{"field":"q3"}}},
 {"mark":{"type":"rule","color":"black","strokeWidth":1.6},"encoding":{"y":{"datum":0}}},
 {"mark":{"type":"tick","orient":"horizontal","size":7,"thickness":4,"color":"black"},"encoding":{"x":{"field":"yr","type":"quantitative"},"y":{"field":"md","type":"quantitative","title":null}}}
]},
{"width":317,"height":203,"title":{"text":"Rwrd10Const","offset":-25.5},"data":{"name":"Rwrd10Const"},"layer":[
 {"mark":{"type":"rule","strokeDash":[5,3],"strokeWidth":1.6,"color":"black"},"encoding":{"x":{"field":"yr","type":"quantitative","title":null,"scale":{"domain":[-1.13,42.1],"nice":false,"zero":false,"padding":0},"axis":{"values":[0,10,20,30,40],"tickCount":20}},"y":{"field":"lo","type":"quantitative","title":null,"scale":{"domain":[-65.9,71.6],"nice":false,"zero":false,"padding":0},"axis":{"values":[-60,-40,-20,0,20,40,60],"tickCount":20}},"y2":{"field":"hi"}}},
 {"mark":{"type":"tick","orient":"horizontal","size":5.5,"thickness":2.2,"color":"black"},"encoding":{"x":{"field":"yr","type":"quantitative","title":null},"y":{"field":"hi","type":"quantitative","title":null}}},
 {"mark":{"type":"tick","orient":"horizontal","size":5.5,"thickness":2.2,"color":"black"},"encoding":{"x":{"field":"yr","type":"quantitative","title":null},"y":{"field":"lo","type":"quantitative","title":null}}},
 {"mark":{"type":"bar","size":5.8,"fill":"white","stroke":"black","strokeWidth":2},"encoding":{"x":{"field":"yr","type":"quantitative","title":null},"y":{"field":"q1","type":"quantitative","title":null},"y2":{"field":"q3"}}},
 {"mark":{"type":"rule","color":"black","strokeWidth":1.6},"encoding":{"y":{"datum":0}}},
 {"mark":{"type":"tick","orient":"horizontal","size":7,"thickness":4,"color":"black"},"encoding":{"x":{"field":"yr","type":"quantitative","title":null},"y":{"field":"md","type":"quantitative","title":null}}}
]}
],
"columns": 3,
"spacing": {"row": 67, "column": 68.5},
"bounds": "flush"
}
